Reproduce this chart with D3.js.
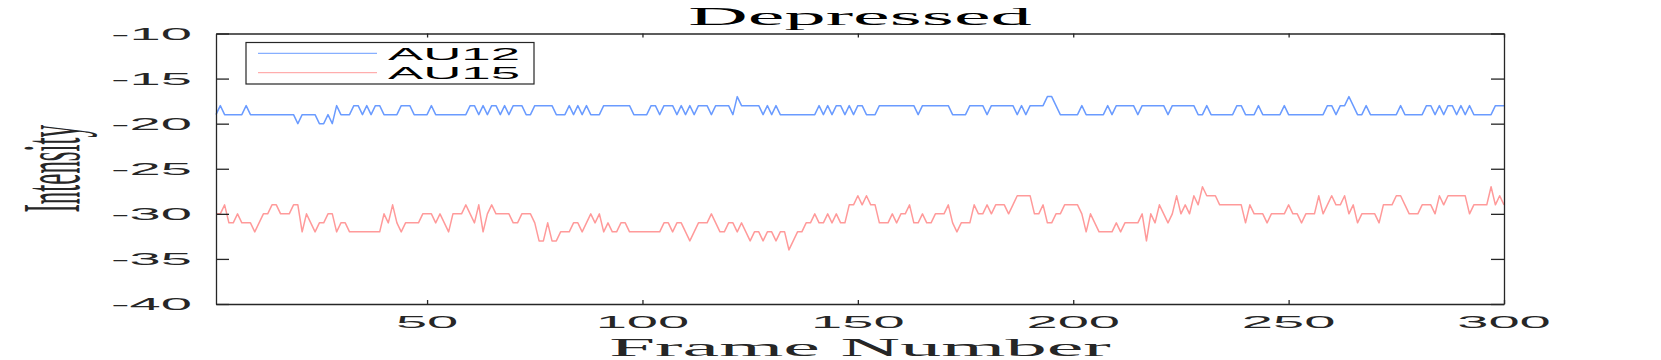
<!DOCTYPE html>
<html>
<head>
<meta charset="utf-8">
<script src="https://cdn.jsdelivr.net/npm/d3@7"></script>
<style>
  body { margin: 0; background: #fff; }
  svg { display: block; }
</style>
</head>
<body>
<svg id="chart" width="1661" height="360"></svg>
<script>
// chart values
const titleText = "Depressed";
const xLabelText = "Frame Number";
const yLabelText = "Intensity";
const seriesNames = ["AU12", "AU15"];
const xTicks = [50, 100, 150, 200, 250, 300];
const yTicks = [-40, -35, -30, -25, -20, -15, -10];

const au12 = [
  -19,-18,-19,-19,-19,-19,-19,-18,-19,-19,-19,-19,-19,-19,-19,-19,-19,-19,-19,-20,
  -19,-19,-19,-19,-20,-20,-19,-20,-18,-19,-19,-19,-18,-18,-19,-18,-19,-18,-18,-19,
  -19,-19,-19,-18,-18,-18,-19,-19,-19,-19,-18,-19,-19,-19,-19,-19,-19,-19,-19,-18,
  -18,-19,-18,-19,-18,-18,-19,-18,-19,-18,-18,-18,-19,-19,-18,-18,-18,-18,-18,-19,
  -19,-19,-18,-19,-18,-19,-18,-19,-19,-19,-18,-18,-18,-18,-18,-18,-18,-19,-19,-19,
  -19,-18,-18,-19,-18,-18,-18,-19,-18,-19,-18,-19,-18,-18,-18,-19,-18,-18,-18,-18,
  -19,-17,-18,-18,-18,-18,-18,-19,-18,-19,-18,-19,-19,-19,-19,-19,-19,-19,-19,-19,
  -18,-19,-18,-19,-18,-18,-19,-18,-19,-18,-18,-19,-19,-19,-18,-18,-18,-18,-18,-18,
  -18,-18,-18,-19,-18,-18,-18,-18,-18,-18,-18,-19,-19,-19,-19,-18,-18,-18,-18,-19,
  -18,-18,-18,-18,-18,-18,-19,-18,-19,-18,-18,-18,-18,-17,-17,-18,-19,-19,-19,-19,
  -19,-18,-19,-19,-19,-19,-19,-18,-19,-18,-18,-18,-18,-18,-19,-18,-18,-18,-18,-18,
  -18,-19,-18,-18,-18,-18,-18,-18,-19,-19,-18,-19,-19,-19,-19,-19,-19,-18,-18,-19,
  -19,-19,-18,-19,-19,-19,-19,-19,-18,-19,-19,-19,-19,-19,-19,-19,-19,-19,-18,-18,
  -19,-18,-18,-17,-18,-19,-19,-18,-19,-19,-19,-19,-19,-19,-19,-18,-19,-19,-19,-19,
  -19,-18,-18,-19,-18,-19,-18,-18,-19,-18,-19,-18,-19,-19,-19,-19,-19,-18,-18,-18
];

const au15 = [
  -30,-30,-29,-31,-31,-30,-31,-31,-31,-32,-31,-30,-30,-29,-29,-30,-30,-30,-29,-29,
  -32,-30,-31,-32,-31,-31,-30,-30,-32,-31,-31,-32,-32,-32,-32,-32,-32,-32,-32,-30,
  -31,-29,-31,-32,-31,-31,-31,-31,-30,-30,-30,-31,-30,-31,-32,-30,-30,-30,-29,-30,
  -31,-29,-32,-30,-29,-30,-30,-30,-30,-31,-31,-30,-30,-30,-31,-33,-33,-31,-33,-33,
  -32,-32,-32,-31,-31,-32,-31,-30,-31,-30,-32,-31,-32,-32,-31,-31,-32,-32,-32,-32,
  -32,-32,-32,-32,-31,-31,-32,-31,-31,-32,-33,-32,-31,-31,-31,-30,-31,-32,-32,-31,
  -31,-32,-31,-32,-33,-32,-32,-33,-32,-32,-33,-32,-32,-34,-33,-32,-32,-31,-31,-30,
  -31,-31,-30,-31,-30,-31,-31,-29,-29,-28,-29,-28,-29,-29,-31,-31,-31,-30,-31,-30,
  -30,-29,-31,-31,-30,-31,-31,-30,-30,-30,-29,-31,-32,-31,-31,-31,-29,-30,-30,-29,
  -30,-29,-29,-29,-30,-29,-28,-28,-28,-28,-30,-30,-29,-31,-31,-30,-30,-29,-29,-29,
  -29,-30,-32,-30,-31,-32,-32,-32,-32,-31,-32,-31,-31,-31,-31,-30,-33,-30,-31,-29,
  -30,-31,-30,-28,-30,-29,-30,-28,-29,-27,-28,-28,-28,-29,-29,-29,-29,-29,-29,-31,
  -29,-30,-30,-30,-31,-30,-30,-30,-30,-29,-30,-30,-31,-30,-30,-30,-28,-30,-29,-28,
  -29,-29,-28,-30,-29,-31,-30,-30,-30,-30,-31,-29,-29,-29,-28,-28,-29,-30,-30,-30,
  -29,-29,-29,-30,-28,-29,-28,-28,-28,-28,-28,-30,-29,-29,-29,-29,-27,-29,-28,-29
];

const seriesColors = ["#6a9bff", "#ff9a9a"];

// the source figure was stretched sideways, so text is widened to match
let stretch = 3.3;
let axisColor = "#262626";
let sansFont = "'Liberation Sans', Arial, sans-serif";
let serifFont = "'Liberation Serif', 'Times New Roman', serif";

let margin = {top: 33.5, right: 157, bottom: 56, left: 216},
    width = 1661 - margin.left - margin.right,
    height = 360 - margin.top - margin.bottom;

let svg = d3.select("#chart");

let xScale = d3.scaleLinear()
    .domain([1, 300])
    .range([margin.left, margin.left + width]);

let yScale = d3.scaleLinear()
    .domain([-40, -10])
    .range([margin.top + height, margin.top]);

let frames = d3.range(1, au12.length + 1);

let line = d3.line()
    .x(function (d) {
        return xScale(d[0]);
    })
    .y(function (d) {
        return yScale(d[1]);
    });

// data lines
[au12, au15].forEach(function (values, i) {
    svg.append("path")
        .datum(frames.map(function (f, j) {
            return [f, values[j]];
        }))
        .attr("fill", "none")
        .attr("stroke", seriesColors[i])
        .attr("stroke-width", 1.5)
        .attr("stroke-linejoin", "round")
        .attr("d", line);
});

// axes box, ticks pointing inward on all four sides
let xTickLen = 4, yTickLen = 13;

svg.append("g")
    .attr("transform", "translate(0," + (margin.top + height) + ")")
    .call(d3.axisTop(xScale).tickValues(xTicks).tickSize(xTickLen).tickFormat("").tickSizeOuter(0));
svg.append("g")
    .attr("transform", "translate(0," + margin.top + ")")
    .call(d3.axisBottom(xScale).tickValues(xTicks).tickSize(xTickLen).tickFormat("").tickSizeOuter(0));
svg.append("g")
    .attr("transform", "translate(" + margin.left + ",0)")
    .call(d3.axisRight(yScale).tickValues(yTicks).tickSize(yTickLen).tickFormat("").tickSizeOuter(0));
svg.append("g")
    .attr("transform", "translate(" + (margin.left + width) + ",0)")
    .call(d3.axisLeft(yScale).tickValues(yTicks).tickSize(yTickLen).tickFormat("").tickSizeOuter(0));

svg.selectAll(".domain, .tick line")
    .attr("stroke", axisColor)
    .attr("stroke-width", 1.3);

// tick labels
svg.selectAll(".ylab")
    .data(yTicks)
    .enter().append("g")
    .attr("transform", function (d) {
        return "translate(" + (margin.left - 24) + "," + yScale(d) + ") scale(" + stretch + ",1)";
    })
    .append("text")
    .attr("text-anchor", "end")
    .attr("dy", "0.36em")
    .style("font-family", sansFont)
    .style("font-size", "17px")
    .attr("fill", axisColor)
    .text(function (d) {
        return "-" + Math.abs(d);
    });

svg.selectAll(".xlab")
    .data(xTicks)
    .enter().append("g")
    .attr("transform", function (d) {
        return "translate(" + xScale(d) + "," + (margin.top + height + 24) + ") scale(" + stretch + ",1)";
    })
    .append("text")
    .attr("text-anchor", "middle")
    .style("font-family", sansFont)
    .style("font-size", "17px")
    .attr("fill", axisColor)
    .text(function (d) {
        return d;
    });

// title and axis labels
let midX = margin.left + width / 2;

svg.append("g")
    .attr("transform", "translate(" + midX + ",25) scale(" + stretch + ",1)")
    .append("text")
    .attr("text-anchor", "middle")
    .style("font-family", serifFont)
    .style("font-size", "25px")
    .attr("fill", "#000")
    .text(titleText);

svg.append("g")
    .attr("transform", "translate(" + midX + ",356) scale(" + stretch + ",1)")
    .append("text")
    .attr("text-anchor", "middle")
    .style("font-family", serifFont)
    .style("font-size", "25px")
    .attr("fill", axisColor)
    .text(xLabelText);

svg.append("g")
    .attr("transform", "translate(79," + (margin.top + height / 2) + ") scale(" + stretch + ",1) rotate(-90)")
    .append("text")
    .attr("text-anchor", "middle")
    .style("font-family", serifFont)
    .style("font-size", "25px")
    .attr("fill", axisColor)
    .text(yLabelText);

// legend
let legend = svg.append("g")
    .attr("class", "legend");

legend.append("rect")
    .attr("x", 246)
    .attr("y", 42.5)
    .attr("width", 288)
    .attr("height", 41.5)
    .attr("fill", "#fff")
    .attr("stroke", axisColor)
    .attr("stroke-width", 1.2);

let legendItems = legend.selectAll(".item")
    .data(seriesNames)
    .enter().append("g")
    .attr("class", "item")
    .attr("transform", function (d, i) {
        return "translate(0," + (53.3 + i * 19.4) + ")";
    });

legendItems.append("line")
    .attr("x1", 258)
    .attr("x2", 377)
    .attr("stroke", function (d, i) {
        return seriesColors[i];
    })
    .attr("stroke-width", 1);

legendItems.append("g")
    .attr("transform", "translate(388,6.5) scale(" + stretch + ",1)")
    .append("text")
    .style("font-family", sansFont)
    .style("font-size", "16px")
    .attr("fill", "#000")
    .text(function (d) {
        return d;
    });
</script>
</body>
</html>
